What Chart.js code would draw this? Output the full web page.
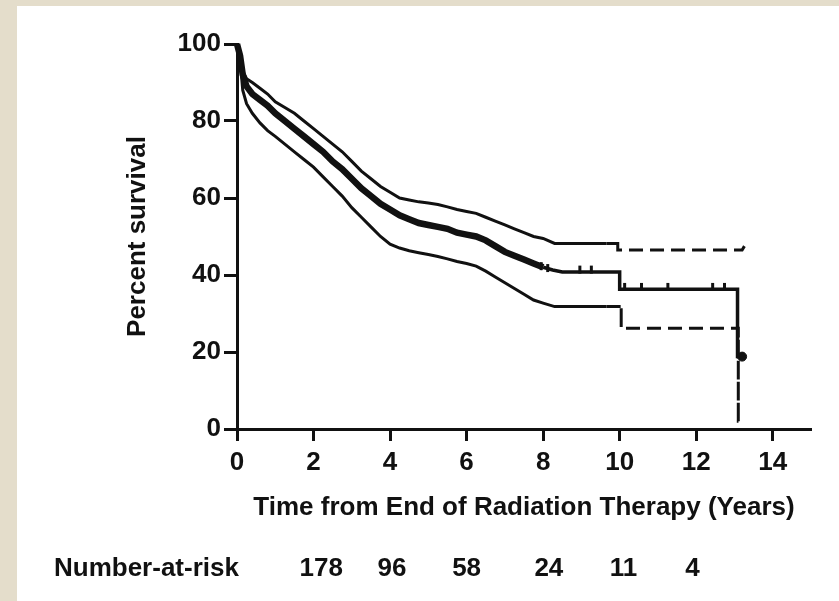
<!DOCTYPE html>
<html>
<head>
<meta charset="utf-8">
<script src="https://cdn.jsdelivr.net/npm/chart.js@4.4.1/dist/chart.umd.min.js"></script>
<style>
  html, body { margin: 0; padding: 0; }
  body { width: 839px; height: 601px; background: #e4ddcb; position: relative; overflow: hidden; }
  #panel { position: absolute; left: 17px; top: 6px; right: 0; bottom: 0; background: #fff; }
  #survivalChart { position: absolute; left: 0; top: 0; }
</style>
</head>
<body>
<div id="panel"></div>
<canvas id="survivalChart" width="839" height="601"></canvas>
<script>
// Kaplan-Meier estimate (years, percent survival)
const survivalYears = [0, 0.08, 0.15, 0.25, 0.4, 0.6, 0.8, 1.0, 1.25, 1.5, 1.75, 2.0, 2.25, 2.5, 2.75,
    3.0, 3.25, 3.5, 3.75, 4.0, 4.25, 4.5, 4.75, 5.0, 5.25, 5.5, 5.75, 6.0, 6.25, 6.5, 6.75,
    7.0, 7.25, 7.5, 7.75, 8.0, 8.25, 8.5, 10.0, 10.0, 13.08, 13.08, 13.2];
const survivalPct = [100, 97, 92, 89, 87, 85.5, 84, 82, 80, 78, 76, 74, 72, 69.5, 67.5,
    65, 62.5, 60.5, 58.5, 57, 55.5, 54.5, 53.5, 53, 52.5, 52, 51, 50.5, 50, 49, 47.5,
    46, 45, 44, 43, 42, 41.3, 40.8, 40.8, 36.3, 36.3, 18.8, 18.8];

// upper 95% confidence band
const upperYears = [0, 0.08, 0.15, 0.25, 0.4, 0.6, 0.8, 1.0, 1.25, 1.5, 1.75, 2.0, 2.25, 2.5, 2.75,
    3.0, 3.25, 3.5, 3.75, 4.0, 4.25, 4.5, 4.75, 5.0, 5.25, 5.5, 5.75, 6.0, 6.25, 6.5, 6.75,
    7.0, 7.25, 7.5, 7.75, 8.0, 8.3, 9.66, 9.95, 9.95, 13.2, 13.26];
const upperPct = [100, 98, 93, 91, 90, 88.5, 87, 85, 83.5, 82, 80, 78, 76, 74, 72,
    69.5, 67, 65, 63, 61.5, 60, 59.5, 59, 58.7, 58.3, 57.7, 57, 56.5, 56, 55, 54,
    53, 52, 51, 50, 49.5, 48.2, 48.2, 48.2, 46.5, 46.5, 47.5];

// lower 95% confidence band
const lowerYears = [0, 0.08, 0.15, 0.25, 0.4, 0.6, 0.8, 1.0, 1.25, 1.5, 1.75, 2.0, 2.25, 2.5, 2.75,
    3.0, 3.25, 3.5, 3.75, 4.0, 4.25, 4.5, 4.75, 5.0, 5.25, 5.5, 5.75, 6.0, 6.25, 6.5, 6.75,
    7.0, 7.25, 7.5, 7.75, 8.0, 8.3, 9.66, 10.04, 10.04, 13.1, 13.1, 13.25];
const lowerPct = [100, 96, 88, 84.5, 82, 79.5, 77.5, 76, 74, 72, 70, 68, 65.5, 63, 60.5,
    57.5, 55, 52.5, 50, 48, 47, 46.3, 45.8, 45.3, 44.8, 44.2, 43.5, 43, 42.3, 41, 39.5,
    38, 36.5, 35, 33.5, 32.7, 31.8, 31.8, 31.8, 26.2, 26.2, 2, 2];

// censored observations
const censorYears = [7.95, 8.12, 8.96, 9.26, 10.13, 10.57, 11.26, 12.43, 12.74];
const censorPct = [42.3, 41.8, 41.4, 41.4, 36.9, 36.9, 36.9, 36.9, 36.9];
const lastCensorYears = [13.2];
const lastCensorPct = [18.8];

// number at risk row
const atRiskYears = [2.2, 4.05, 6, 8.15, 10.1, 11.9];
const atRiskCounts = [178, 96, 58, 24, 11, 4];

const xTitle = 'Time from End of Radiation Therapy (Years)';
const yTitle = 'Percent survival';
const atRiskLabel = 'Number-at-risk';

const INK = '#111';
const FONT_FAMILY = '"Liberation Sans", Arial, Helvetica, sans-serif';
const FONT_SIZE = 26;
const DASH_FROM = 9.66;

function toPoints(xs, ys) {
    return xs.map((x, i) => ({ x: x, y: ys[i] }));
}

/**
 * Draws the axis titles and the number-at-risk row under the plot
 */
const survivalText = {
    id: 'survivalText',
    afterDraw(chart) {
        const { ctx, chartArea, scales } = chart;
        ctx.save();
        ctx.fillStyle = INK;
        ctx.font = `bold ${FONT_SIZE}px ${FONT_FAMILY}`;
        ctx.textBaseline = 'middle';

        // x axis title
        ctx.textAlign = 'center';
        ctx.fillText(xTitle, (chartArea.left + chartArea.right) / 2, chartArea.bottom + 79);

        // y axis title
        ctx.save();
        ctx.translate(chartArea.left - 99, (chartArea.top + chartArea.bottom) / 2);
        ctx.rotate(-Math.PI / 2);
        ctx.fillText(yTitle, 0, 0);
        ctx.restore();

        // number at risk
        const rowY = chartArea.bottom + 140;
        ctx.textAlign = 'left';
        ctx.fillText(atRiskLabel, chartArea.left - 183, rowY);
        ctx.textAlign = 'center';
        atRiskYears.forEach((yr, i) => {
            ctx.fillText(String(atRiskCounts[i]), scales.x.getPixelForValue(yr), rowY);
        });
        ctx.restore();
    }
};

const dashedTail = ctx => ctx.p0.parsed.x >= DASH_FROM ? [14, 7] : undefined;

new Chart(document.getElementById('survivalChart'), {
    type: 'line',
    data: {
        datasets: [
            {
                label: 'Upper 95% CI',
                data: toPoints(upperYears, upperPct),
                borderColor: INK,
                borderWidth: 3,
                pointRadius: 0,
                clip: false,
                segment: { borderDash: dashedTail }
            },
            {
                label: 'Lower 95% CI',
                data: toPoints(lowerYears, lowerPct),
                borderColor: INK,
                borderWidth: 3,
                pointRadius: 0,
                clip: false,
                segment: { borderDash: dashedTail }
            },
            {
                label: 'Survival',
                data: toPoints(survivalYears, survivalPct),
                borderColor: INK,
                borderWidth: 6,
                pointRadius: 0,
                clip: false,
                segment: {
                    borderWidth: ctx => ctx.p0.parsed.x >= 8 ? 3.5 : 6.5
                }
            },
            {
                label: 'Censored',
                data: toPoints(censorYears, censorPct),
                showLine: false,
                pointStyle: 'line',
                rotation: 90,
                pointRadius: 4,
                borderColor: INK,
                borderWidth: 3,
                clip: false
            },
            {
                label: 'Last censored',
                data: toPoints(lastCensorYears, lastCensorPct),
                showLine: false,
                pointStyle: 'circle',
                pointRadius: 4.5,
                backgroundColor: INK,
                borderColor: INK,
                clip: false
            }
        ]
    },
    options: {
        responsive: false,
        animation: false,
        layout: {
            padding: { left: 0, top: 44, right: 28, bottom: 0 }
        },
        plugins: {
            legend: { display: false },
            tooltip: { enabled: false }
        },
        elements: {
            line: { tension: 0, borderCapStyle: 'butt', borderJoinStyle: 'miter' }
        },
        scales: {
            x: {
                type: 'linear',
                min: 0,
                max: 15,
                afterFit: scale => { scale.height = 172; },
                border: { display: true, color: INK, width: 3 },
                grid: {
                    drawOnChartArea: false,
                    tickLength: 12,
                    tickWidth: 3,
                    tickColor: INK
                },
                ticks: {
                    stepSize: 2,
                    includeBounds: false,
                    padding: 6,
                    color: INK,
                    font: { family: FONT_FAMILY, size: FONT_SIZE, weight: 'bold' }
                }
            },
            y: {
                min: 0,
                max: 100,
                afterFit: scale => { scale.width = 237; },
                border: { display: true, color: INK, width: 3 },
                grid: {
                    drawOnChartArea: false,
                    tickLength: 13,
                    tickWidth: 3,
                    tickColor: INK
                },
                ticks: {
                    stepSize: 20,
                    padding: 3,
                    color: INK,
                    font: { family: FONT_FAMILY, size: FONT_SIZE, weight: 'bold' }
                }
            }
        }
    },
    plugins: [survivalText]
});
</script>
</body>
</html>
